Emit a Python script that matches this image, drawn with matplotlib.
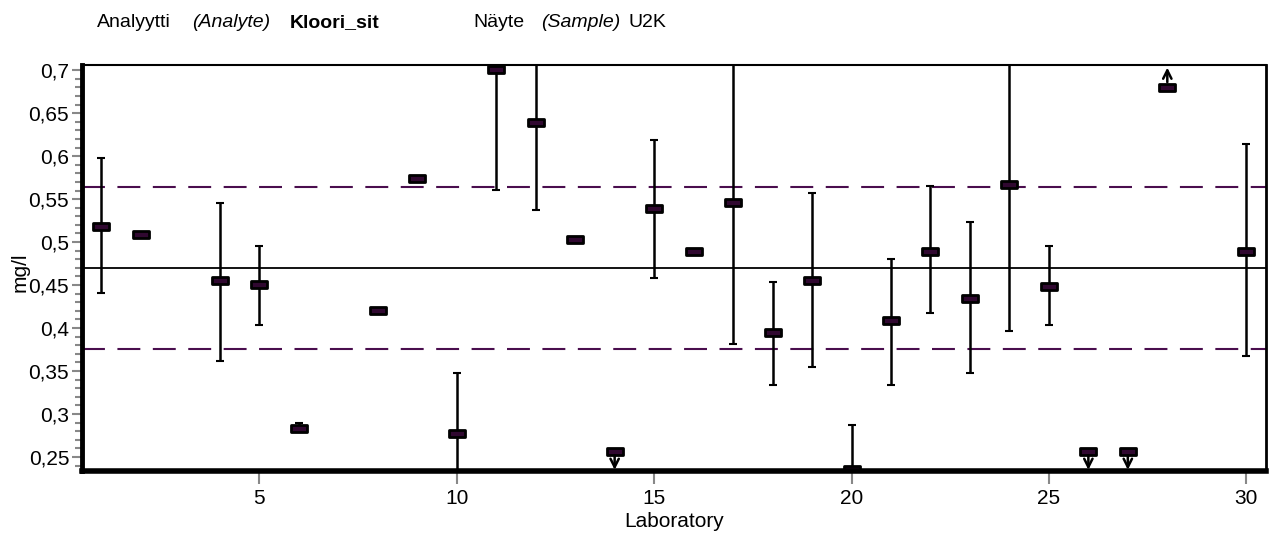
import numpy as np
import matplotlib.pyplot as plt
from matplotlib.ticker import MultipleLocator, FuncFormatter
from matplotlib.path import Path

plt.rcParams['font.family'] = ['Liberation Sans', 'DejaVu Sans']

labs = [1, 2, 4, 5, 6, 8, 9, 10, 11, 12, 13, 14, 15, 16, 17, 18, 19, 20,
        21, 22, 23, 24, 25, 26, 27, 28, 30]
values = [0.519, 0.509, 0.456, 0.451, 0.284, 0.421, 0.575, 0.278, 0.701,
          0.640, 0.504, 0.257, 0.540, 0.490, 0.547, 0.395, 0.456, 0.236,
          0.409, 0.490, 0.435, 0.567, 0.449, 0.257, 0.257, 0.681, 0.490]
nan = np.nan
low = [0.441, nan, 0.362, 0.404, 0.279, nan, nan, 0.208, 0.561, 0.537, nan,
       nan, 0.458, nan, 0.381, 0.334, 0.355, 0.185, 0.334, 0.418, 0.348,
       0.397, 0.404, nan, nan, nan, 0.367]
high = [0.598, nan, 0.546, 0.495, 0.289, nan, nan, 0.348, 0.841, 0.743, nan,
        nan, 0.619, nan, 0.712, 0.453, 0.557, 0.287, 0.480, 0.565, 0.523,
        0.737, 0.495, nan, nan, nan, 0.614]
below = [14, 26, 27]   # "less than" results
above = [28]           # "greater than" results

assigned = 0.47
limit_lo = 0.376
limit_hi = 0.564

purple = '#4a0e4e'

x = np.array(labs)
v = np.array(values)
lo = np.array(low)
hi = np.array(high)
yerr = np.vstack([v - lo, hi - v])

fig = plt.figure(figsize=(12.73, 5.4), dpi=100)
ax = fig.add_axes([0.0642, 0.1283, 0.9303, 0.7513])

ax.axhline(assigned, color='black', lw=1.3, zorder=1)
ax.axhline(limit_hi, color=purple, lw=1.5, dashes=(11, 6), zorder=1)
ax.axhline(limit_lo, color=purple, lw=1.5, dashes=(11, 6), zorder=1)

has = ~np.isnan(lo)
eb = ax.errorbar(x[has], v[has], yerr=yerr[:, has], fmt='none', ecolor='black',
                 elinewidth=1.8, capsize=3, capthick=1.5, zorder=2)
for cap in eb[1]:
    cap.set_color(purple)

rect = Path([(-1, -0.42), (1, -0.42), (1, 0.42), (-1, 0.42), (-1, -0.42)],
            [Path.MOVETO, Path.LINETO, Path.LINETO, Path.LINETO, Path.CLOSEPOLY])
ax.plot(x, v, ls='none', marker=rect, markersize=12, markerfacecolor='#300830',
        markeredgecolor='black', markeredgewidth=2, zorder=3)

arrow_style = dict(arrowstyle='->', color='black', lw=1.8, mutation_scale=15,
                   shrinkA=0, shrinkB=0)
for lab in below:
    val = values[labs.index(lab)]
    ax.annotate('', xy=(lab, val - 0.022), xytext=(lab, val - 0.005),
                arrowprops=arrow_style, zorder=3)
for lab in above:
    val = values[labs.index(lab)]
    ax.annotate('', xy=(lab, val + 0.022), xytext=(lab, val + 0.005),
                arrowprops=arrow_style, zorder=3)

ax.set_xlim(0.5, 30.5)
ax.set_ylim(0.234, 0.706)

ax.xaxis.set_major_locator(MultipleLocator(5))
ax.yaxis.set_major_locator(MultipleLocator(0.05))
ax.yaxis.set_minor_locator(MultipleLocator(0.01))
ax.yaxis.set_major_formatter(FuncFormatter(lambda t, p: f"{t:g}".replace('.', ',')))

ax.tick_params(axis='both', which='major', labelsize=15, color='#888888',
               width=1.5, direction='out')
ax.tick_params(axis='x', which='major', length=9, pad=4)
ax.tick_params(axis='y', which='major', length=7, pad=2)
ax.tick_params(axis='y', which='minor', length=5, width=1.5, color='#888888')

ax.spines['left'].set_linewidth(3.5)
ax.spines['bottom'].set_linewidth(4)
ax.spines['top'].set_linewidth(1.5)
ax.spines['right'].set_linewidth(2)
for s in ax.spines.values():
    s.set_zorder(5)

ax.set_xlabel('Laboratory', fontsize=15, labelpad=3)
fig.text(20 / 1273, 1 - 272 / 540, 'mg/l', rotation=90, fontsize=15,
         ha='center', va='center')

hy = 1 - 27 / 540
fig.text(97 / 1273, hy, 'Analyytti', fontsize=14, va='baseline')
fig.text(192 / 1273, hy, '(Analyte)', fontsize=14, style='italic', va='baseline')
fig.text(290 / 1273, hy, 'Kloori_sit', fontsize=14, weight='bold', va='baseline')
fig.text(473 / 1273, hy, 'Näyte', fontsize=14, va='baseline')
fig.text(541 / 1273, hy, '(Sample)', fontsize=14, style='italic', va='baseline')
fig.text(628 / 1273, hy, 'U2K', fontsize=14, va='baseline')

fig.savefig('out.png', dpi=100)
